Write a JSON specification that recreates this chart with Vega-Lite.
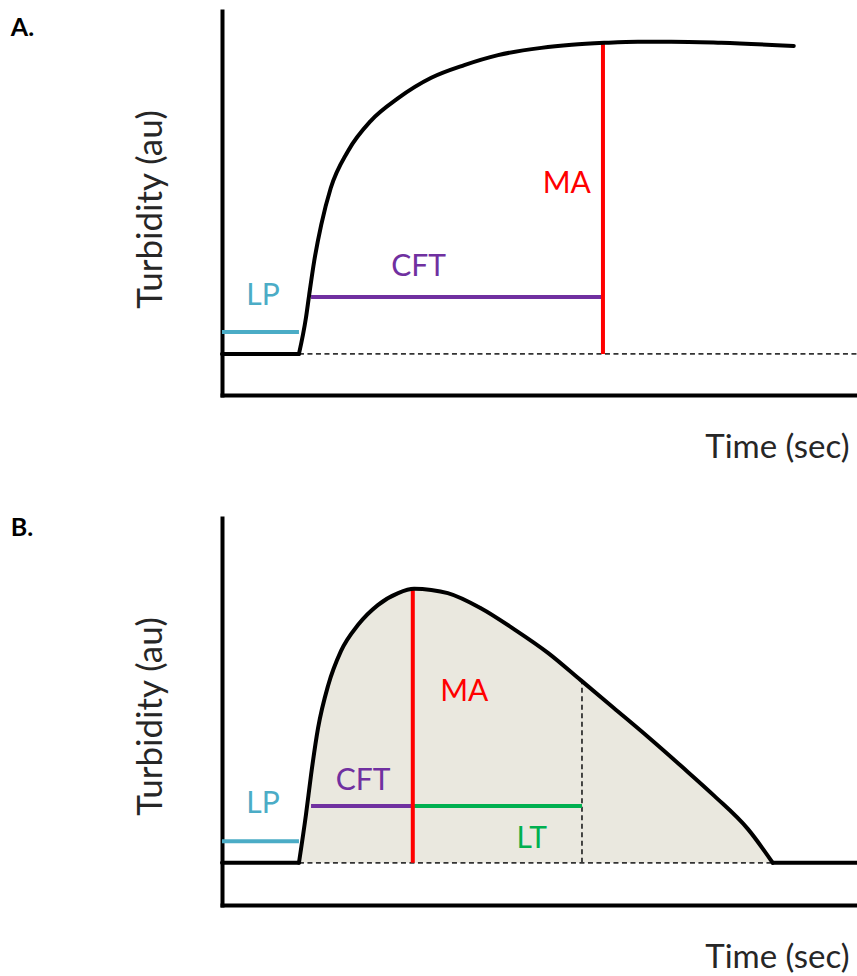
{
  "$schema": "https://vega.github.io/schema/vega-lite/v6.json",
  "background": "white",
  "padding": {"left": 10, "top": 11, "right": 0, "bottom": 0},
  "spacing": 123,
  "bounds": "flush",
  "config": {
    "view": {"stroke": null},
    "axis": {
      "ticks": false, "labels": false, "grid": false,
      "domainWidth": 4, "domainColor": "#000000", "domainCap": "square",
      "titleFont": "Lato", "titleFontWeight": "normal", "titleColor": "#262626"
    },
    "text": {"font": "Lato"}
  },
  "datasets": {
    "curveA": [
      {"part": "base", "t": 0, "v": 10.7}, {"part": "base", "t": 12.1, "v": 10.7},
      {"part": "rise", "t": 12.1, "v": 10.7}, {"part": "rise", "t": 13.2, "v": 20.1}, {"part": "rise", "t": 13.7, "v": 26.0},
      {"part": "rise", "t": 14.5, "v": 34.9}, {"part": "rise", "t": 15.6, "v": 44.3}, {"part": "rise", "t": 17.1, "v": 53.9},
      {"part": "rise", "t": 19.8, "v": 63.5}, {"part": "rise", "t": 23.4, "v": 71.4}, {"part": "rise", "t": 27.7, "v": 77.3},
      {"part": "rise", "t": 32.9, "v": 82.6}, {"part": "rise", "t": 38.1, "v": 85.9}, {"part": "rise", "t": 43.4, "v": 88.5},
      {"part": "rise", "t": 50.2, "v": 90.4}, {"part": "rise", "t": 55.0, "v": 91.2}, {"part": "rise", "t": 60.1, "v": 91.7},
      {"part": "rise", "t": 65.4, "v": 92.0}, {"part": "rise", "t": 70.6, "v": 92.0}, {"part": "rise", "t": 78.5, "v": 91.7},
      {"part": "rise", "t": 89.9, "v": 90.9}
    ],
    "curveB": [
      {"part": "base", "t": 0, "v": 10.9}, {"part": "base", "t": 12.1, "v": 10.9},
      {"part": "rise", "t": 12.1, "v": 10.9}, {"part": "rise", "t": 13.2, "v": 23.3}, {"part": "rise", "t": 14.0, "v": 33.6},
      {"part": "rise", "t": 15.1, "v": 45.7}, {"part": "rise", "t": 16.7, "v": 56.8}, {"part": "rise", "t": 18.7, "v": 65.6},
      {"part": "rise", "t": 21.4, "v": 72.4}, {"part": "rise", "t": 24.5, "v": 77.5}, {"part": "rise", "t": 27.7, "v": 80.6},
      {"part": "rise", "t": 30.2, "v": 81.7}, {"part": "rise", "t": 32.9, "v": 81.4}, {"part": "rise", "t": 35.5, "v": 80.6},
      {"part": "rise", "t": 40.7, "v": 76.7}, {"part": "rise", "t": 45.9, "v": 71.3}, {"part": "rise", "t": 51.3, "v": 65.1},
      {"part": "rise", "t": 56.4, "v": 58.1}, {"part": "rise", "t": 61.6, "v": 50.9}, {"part": "rise", "t": 67.0, "v": 43.4},
      {"part": "rise", "t": 72.2, "v": 35.9}, {"part": "rise", "t": 77.4, "v": 28.2}, {"part": "rise", "t": 82.7, "v": 19.6},
      {"part": "rise", "t": 86.6, "v": 10.9},
      {"part": "tail", "t": 86.6, "v": 10.9}, {"part": "tail", "t": 100, "v": 10.9}
    ],
    "segA": [
      {"name": "LP", "t": 0, "t2": 12.1, "v": 16.4, "v2": 16.4},
      {"name": "CFT", "t": 14.0, "t2": 59.6, "v": 25.5, "v2": 25.5},
      {"name": "MA", "t": 59.9, "t2": 59.9, "v": 10.7, "v2": 91.7}
    ],
    "dashA": [
      {"t": 12.1, "t2": 100, "v": 10.7, "v2": 10.7}
    ],
    "segB": [
      {"name": "LP", "t": 0, "t2": 12.1, "v": 16.5, "v2": 16.5},
      {"name": "CFT", "t": 14.0, "t2": 30.0, "v": 25.6, "v2": 25.6},
      {"name": "LT", "t": 30.0, "t2": 56.6, "v": 25.6, "v2": 25.6},
      {"name": "MA", "t": 30.0, "t2": 30.0, "v": 10.9, "v2": 81.7}
    ],
    "dashB": [
      {"t": 12.1, "t2": 86.6, "v": 10.9, "v2": 10.9},
      {"t": 56.6, "t2": 56.6, "v": 10.9, "v2": 57.8}
    ],
    "labA": [
      {"name": "LP", "t": 6.45, "v": 23.4},
      {"name": "CFT", "t": 30.9, "v": 31.0},
      {"name": "MA", "t": 54.2, "v": 52.6}
    ],
    "labB": [
      {"name": "LP", "t": 6.45, "v": 23.8},
      {"name": "CFT", "t": 22.2, "v": 29.7},
      {"name": "MA", "t": 38.1, "v": 52.7},
      {"name": "LT", "t": 48.7, "v": 14.7}
    ],
    "panelA": [{"name": "A.", "t": -33.2, "v": 93.5}],
    "panelB": [{"name": "B.", "t": -33.2, "v": 95.3}]
  },
  "vconcat": [
    {
      "width": 636,
      "height": 384,
      "encoding": {
        "x": {"field": "t", "type": "quantitative",
          "scale": {"domain": [0, 100], "nice": false, "zero": false},
          "axis": {"title": "Time (sec)", "titleFontSize": 33, "titleAlign": "right", "titleBaseline": "alphabetic", "titleX": 627, "titleY": 62, "titleAngle": 0}},
        "y": {"field": "v", "type": "quantitative",
          "scale": {"domain": [0, 100], "nice": false, "zero": false},
          "axis": {"title": "Turbidity (au)", "titleFontSize": 35, "titleAlign": "center", "titleBaseline": "alphabetic", "titleAngle": 270, "titleX": -61, "titleY": 198}}
      },
      "layer": [
        {"data": {"name": "dashA"}, "mark": {"type": "rule", "strokeDash": [5, 3.5], "strokeWidth": 1.8, "color": "#333333"},
         "encoding": {"x2": {"field": "t2"}, "y2": {"field": "v2"}}},
        {"data": {"name": "segA"}, "mark": {"type": "rule", "strokeWidth": 4},
         "encoding": {"x2": {"field": "t2"}, "y2": {"field": "v2"},
           "color": {"field": "name", "type": "nominal", "legend": null,
             "scale": {"domain": ["LP", "CFT", "MA", "LT"], "range": ["#4BACC6", "#7030A0", "#FF0000", "#00B050"]}}}},
        {"data": {"name": "curveA"}, "mark": {"type": "line", "interpolate": "monotone", "color": "#000000", "strokeWidth": 4, "strokeCap": "round", "strokeJoin": "round"},
         "encoding": {"detail": {"field": "part", "type": "nominal"}}},
        {"data": {"name": "labA"}, "mark": {"type": "text", "fontSize": 30, "align": "center", "baseline": "alphabetic"},
         "encoding": {"text": {"field": "name"},
           "color": {"field": "name", "type": "nominal", "legend": null,
             "scale": {"domain": ["LP", "CFT", "MA", "LT"], "range": ["#4BACC6", "#7030A0", "#FF0000", "#00B050"]}}}},
        {"data": {"name": "panelA"}, "mark": {"type": "text", "fontSize": 25, "fontWeight": "bold", "align": "left", "baseline": "alphabetic", "color": "#000000"},
         "encoding": {"text": {"field": "name"}}}
      ]
    },
    {
      "width": 636,
      "height": 387,
      "encoding": {
        "x": {"field": "t", "type": "quantitative",
          "scale": {"domain": [0, 100], "nice": false, "zero": false},
          "axis": {"title": "Time (sec)", "titleFontSize": 33, "titleAlign": "right", "titleBaseline": "alphabetic", "titleX": 627, "titleY": 62, "titleAngle": 0}},
        "y": {"field": "v", "type": "quantitative",
          "scale": {"domain": [0, 100], "nice": false, "zero": false},
          "axis": {"title": "Turbidity (au)", "titleFontSize": 35, "titleAlign": "center", "titleBaseline": "alphabetic", "titleAngle": 270, "titleX": -61, "titleY": 198}}
      },
      "layer": [
        {"data": {"name": "curveB"}, "transform": [{"filter": {"field": "part", "equal": "rise"}}],
         "mark": {"type": "area", "interpolate": "monotone", "color": "#EAE8DF", "opacity": 1},
         "encoding": {"y2": {"datum": 10.9}}},
        {"data": {"name": "dashB"}, "mark": {"type": "rule", "strokeDash": [5, 3.5], "strokeWidth": 1.8, "color": "#333333"},
         "encoding": {"x2": {"field": "t2"}, "y2": {"field": "v2"}}},
        {"data": {"name": "segB"}, "mark": {"type": "rule", "strokeWidth": 4},
         "encoding": {"x2": {"field": "t2"}, "y2": {"field": "v2"},
           "color": {"field": "name", "type": "nominal", "legend": null,
             "scale": {"domain": ["LP", "CFT", "MA", "LT"], "range": ["#4BACC6", "#7030A0", "#FF0000", "#00B050"]}}}},
        {"data": {"name": "curveB"}, "mark": {"type": "line", "interpolate": "monotone", "color": "#000000", "strokeWidth": 4, "strokeCap": "round", "strokeJoin": "round"},
         "encoding": {"detail": {"field": "part", "type": "nominal"}}},
        {"data": {"name": "labB"}, "mark": {"type": "text", "fontSize": 30, "align": "center", "baseline": "alphabetic"},
         "encoding": {"text": {"field": "name"},
           "color": {"field": "name", "type": "nominal", "legend": null,
             "scale": {"domain": ["LP", "CFT", "MA", "LT"], "range": ["#4BACC6", "#7030A0", "#FF0000", "#00B050"]}}}},
        {"data": {"name": "panelB"}, "mark": {"type": "text", "fontSize": 25, "fontWeight": "bold", "align": "left", "baseline": "alphabetic", "color": "#000000"},
         "encoding": {"text": {"field": "name"}}}
      ]
    }
  ]
}
